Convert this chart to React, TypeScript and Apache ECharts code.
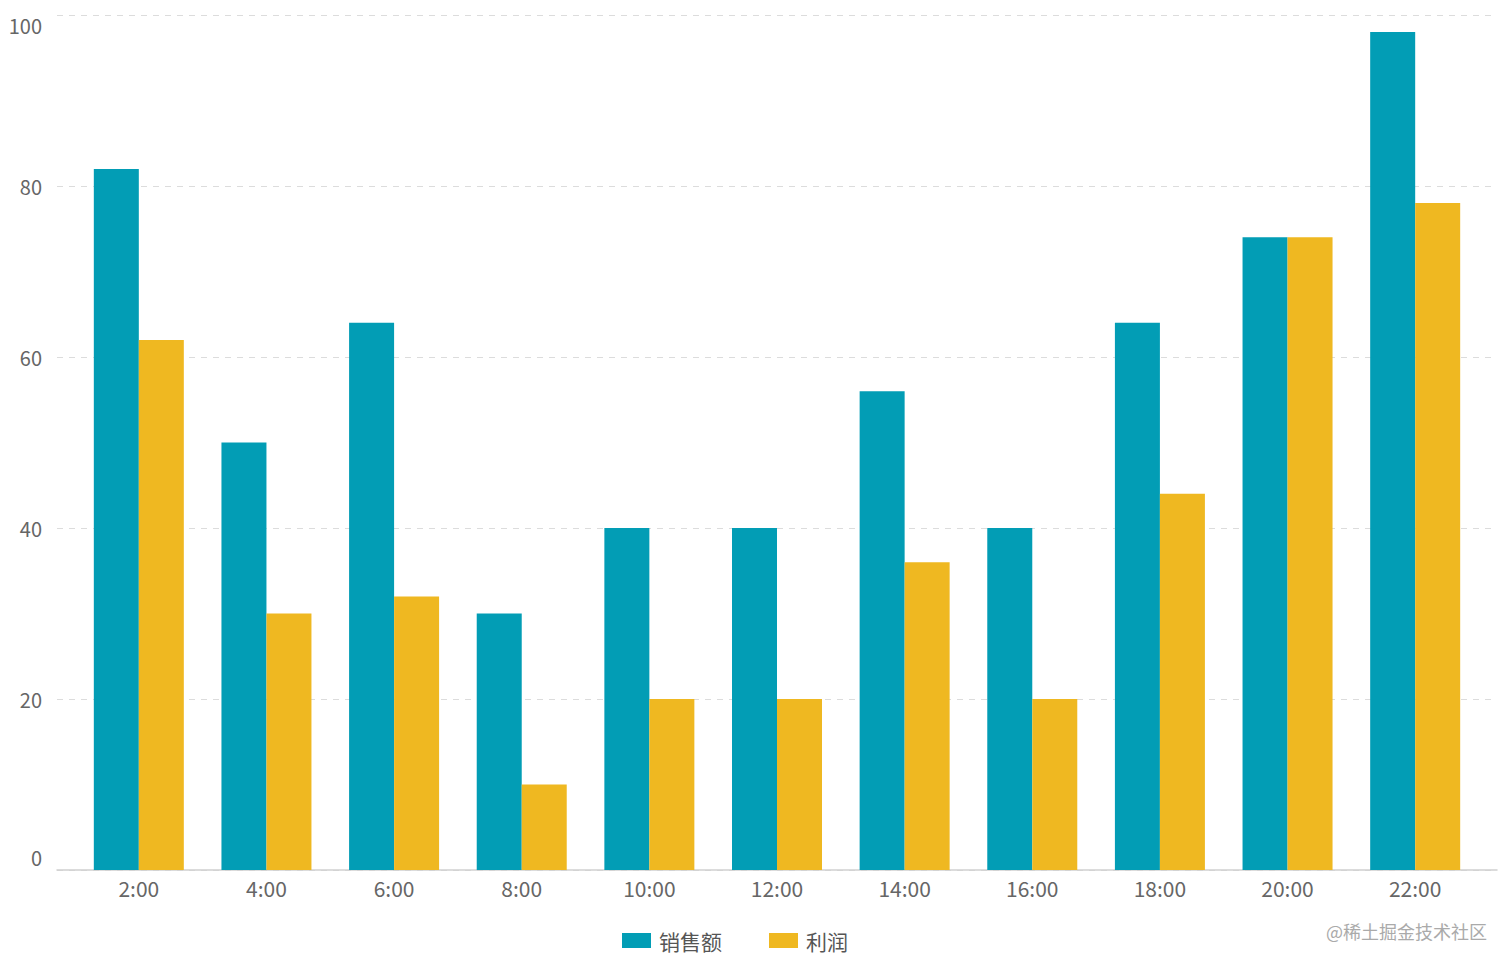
import React, { useEffect, useRef } from "react";
import * as echarts from "echarts";

const categories = ["2:00", "4:00", "6:00", "8:00", "10:00", "12:00", "14:00", "16:00", "18:00", "20:00", "22:00"];
const sales = [82, 50, 64, 30, 40, 40, 56, 40, 64, 74, 98];
const profit = [62, 30, 32, 10, 20, 20, 36, 20, 44, 74, 78];
const seriesNames = ["销售额", "利润"];
const watermark = "@稀土掘金技术社区";

const FONT = "'Noto Sans CJK SC', 'Noto Sans', sans-serif";

export default function App() {
  const ref = useRef<HTMLDivElement>(null);
  useEffect(() => {
    if (!ref.current) return;
    const chart = echarts.init(ref.current, undefined, { renderer: "svg" });
    chart.setOption({
      animation: false,
      textStyle: { fontFamily: FONT },
      color: ["#029db5", "#efb821"],
      legend: {
        bottom: 10,
        left: 617,
        itemWidth: 29,
        itemHeight: 15,
        itemGap: 47,
        icon: "rect",
        textStyle: { fontSize: 21, color: "#555", fontFamily: FONT, padding: [0, 0, 0, 3] },
        data: seriesNames,
      },
      grid: [
        { left: 75, right: 33, top: 15, bottom: 96 },
        { left: 57, right: 15, top: 15, bottom: 96 },
      ],
      xAxis: [
        {
          type: "category",
          gridIndex: 0,
          data: categories,
          axisLine: { show: false },
          axisTick: { show: false },
          axisLabel: { fontSize: 21, color: "#666", margin: 7, fontFamily: FONT },
        },
        {
          type: "category",
          gridIndex: 1,
          data: ["a"],
          axisLine: { show: true, lineStyle: { color: "#d0d0d0", width: 1.5 } },
          axisTick: { show: false },
          axisLabel: { show: false },
        },
      ],
      yAxis: [
        {
          type: "value",
          gridIndex: 0,
          min: 0,
          max: 100,
          interval: 20,
          show: false,
          splitLine: { show: false },
        },
        {
          type: "value",
          gridIndex: 1,
          min: 0,
          max: 100,
          interval: 20,
          axisLine: { show: false },
          axisTick: { show: false },
          axisLabel: {
            fontSize: 20,
            color: "#666",
            margin: 15,
            fontFamily: FONT,
            formatter: (v: number) => (v === 0 ? `{lo|${v}}` : v === 100 ? `{hi|${v}}` : `${v}`),
            rich: {
              lo: { fontSize: 20, color: "#666", fontFamily: FONT, padding: [0, 0, 26, 0] },
              hi: { fontSize: 20, color: "#666", fontFamily: FONT, padding: [20, 0, 0, 0] },
            },
          },
          splitLine: { show: true, lineStyle: { color: "#dcdcdc", type: [6, 6] } },
        },
      ],
      series: [
        {
          name: seriesNames[0],
          type: "bar",
          xAxisIndex: 0,
          yAxisIndex: 0,
          data: sales,
          barWidth: 45,
          barGap: "0%",
        },
        {
          name: seriesNames[1],
          type: "bar",
          xAxisIndex: 0,
          yAxisIndex: 0,
          data: profit,
          barWidth: 45,
          barGap: "0%",
        },
      ],
      graphic: [
        {
          type: "text",
          right: 25,
          bottom: 26,
          style: { text: watermark, fontSize: 18, fill: "#aaa", fontFamily: FONT },
        },
      ],
    });
    return () => chart.dispose();
  }, []);
  return <div ref={ref} style={{ position: "absolute", left: 0, top: 0, width: 1512, height: 966 }} />;
}
